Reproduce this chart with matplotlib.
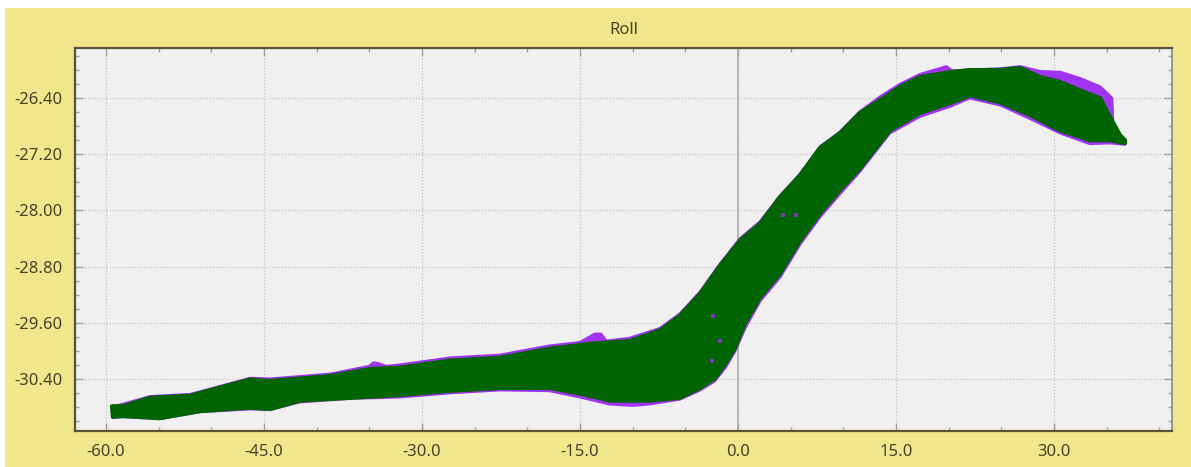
import numpy as np
import matplotlib
matplotlib.use("Agg")
import matplotlib.pyplot as plt
from matplotlib.ticker import MultipleLocator, FormatStrFormatter
from matplotlib.patches import Rectangle

plt.rcParams['font.family'] = ['Noto Sans', 'DejaVu Sans']

title = "Roll"

# Green (second series) point cloud envelope: upper and lower edges
green_upper_x = [-59.43, -58.39, -55.82, -52.03, -46.33, -44.43, -38.74, -34.94, -32.09,
                 -27.34, -22.60, -17.85, -14.05, -10.25, -7.41, -5.51, -3.61, -1.71,
                 0.19, 2.09, 3.99, 5.89, 7.79, 9.68, 11.58, 13.48, 15.38, 17.28, 20.13,
                 22.03, 24.87, 26.77, 28.67, 30.57, 32.47, 34.37, 35.32, 36.27, 36.74]
green_upper_y = [-30.79, -30.79, -30.67, -30.64, -30.41, -30.43, -30.36, -30.26, -30.24,
                 -30.14, -30.10, -29.97, -29.90, -29.86, -29.71, -29.50, -29.19, -28.79,
                 -28.43, -28.19, -27.81, -27.50, -27.11, -26.90, -26.61, -26.43, -26.24,
                 -26.10, -26.03, -26.00, -26.00, -25.97, -26.10, -26.17, -26.29, -26.40,
                 -26.67, -26.93, -27.00]
green_lower_x = [-59.34, -58.39, -54.88, -51.08, -46.33, -44.43, -41.58, -36.84, -32.09,
                 -27.34, -22.60, -17.85, -15.00, -12.15, -8.35, -5.51, -3.61, -2.18,
                 -1.23, -0.28, 0.66, 2.09, 3.99, 5.89, 7.79, 9.68, 11.58, 14.43, 17.28,
                 20.13, 22.03, 24.87, 27.72, 30.57, 33.42, 35.32, 36.74]
green_lower_y = [-30.94, -30.93, -30.96, -30.86, -30.81, -30.83, -30.71, -30.67, -30.63,
                 -30.57, -30.53, -30.53, -30.61, -30.71, -30.71, -30.67, -30.53, -30.39,
                 -30.19, -29.96, -29.61, -29.24, -28.90, -28.43, -28.04, -27.71, -27.40,
                 -26.86, -26.61, -26.47, -26.36, -26.46, -26.64, -26.86, -27.00, -27.00,
                 -27.04]

# Purple (first series) envelope, partly hidden under the green points
purple_upper_x = [-59.40, -58.40, -55.80, -52.00, -46.30, -44.40, -38.70, -35.00, -34.60,
                  -34.20, -33.40, -32.10, -27.30, -22.60, -17.90, -15.00, -13.60, -13.00,
                  -12.50, -10.30, -7.40, -5.50, -3.60, -1.70, 0.20, 2.10, 4.00, 5.90,
                  7.80, 9.70, 11.60, 13.50, 15.40, 17.30, 19.80, 20.30, 22.00, 24.90,
                  26.80, 28.70, 30.60, 32.50, 34.40, 35.50, 35.60, 36.30, 36.74]
purple_upper_y = [-30.80, -30.76, -30.65, -30.62, -30.39, -30.40, -30.33, -30.22, -30.17,
                  -30.18, -30.22, -30.20, -30.10, -30.06, -29.93, -29.88, -29.76, -29.76,
                  -29.86, -29.82, -29.68, -29.47, -29.16, -28.76, -28.40, -28.16, -27.79,
                  -27.48, -27.09, -26.88, -26.59, -26.38, -26.20, -26.06, -25.95, -26.01,
                  -26.00, -25.98, -25.95, -26.02, -26.03, -26.12, -26.24, -26.40, -26.81,
                  -26.93, -27.00]
purple_lower_x = [-59.40, -58.40, -54.90, -51.10, -46.30, -44.40, -41.60, -36.80, -32.10,
                  -27.30, -22.60, -17.90, -15.00, -12.20, -10.00, -8.40, -5.50, -3.60,
                  -2.20, -1.20, -0.30, 0.70, 2.10, 4.00, 5.90, 7.80, 9.70, 11.60, 14.40,
                  17.30, 20.10, 22.00, 24.90, 27.70, 30.60, 33.40, 35.30, 36.74]
purple_lower_y = [-30.95, -30.94, -30.97, -30.87, -30.83, -30.84, -30.73, -30.68, -30.66,
                  -30.60, -30.56, -30.57, -30.66, -30.76, -30.78, -30.76, -30.69, -30.56,
                  -30.43, -30.24, -30.01, -29.67, -29.29, -28.95, -28.48, -28.09, -27.76,
                  -27.44, -26.90, -26.66, -26.52, -26.40, -26.50, -26.69, -26.90, -27.05,
                  -27.04, -27.06]

# a few isolated purple points visible inside the cloud
purple_spots_x = [-2.37, -1.71, -2.47, 4.27, 5.51]
purple_spots_y = [-29.50, -29.86, -30.14, -28.07, -28.07]

x_ticks = [-60.0, -45.0, -30.0, -15.0, 0.0, 15.0, 30.0]
y_ticks = [-26.40, -27.20, -28.00, -28.80, -29.60, -30.40]

W, H = 1191, 467
fig = plt.figure(figsize=(W / 100, H / 100), dpi=100, facecolor="white")
fig.patches.append(Rectangle((5 / W, 0), 1 - 5 / W, (H - 8) / H, transform=fig.transFigure,
                             facecolor="#F0E68C", edgecolor="none", zorder=-10))

ax = fig.add_axes([75 / W, 36 / H, (1172 - 75) / W, (431 - 48) / H])
ax.set_facecolor("#F0F0F0")

purple = "#A034F0"
green = "#006400"

px = np.concatenate([purple_upper_x, purple_lower_x[::-1]])
py = np.concatenate([purple_upper_y, purple_lower_y[::-1]])
ax.fill(px, py, facecolor=purple, edgecolor=purple, linewidth=2.0, joinstyle="round", zorder=3)

gx = np.concatenate([green_upper_x, green_lower_x[::-1]])
gy = np.concatenate([green_upper_y, green_lower_y[::-1]])
ax.fill(gx, gy, facecolor=green, edgecolor=green, linewidth=3.0, joinstyle="round", zorder=4)
ax.scatter(purple_spots_x, purple_spots_y, s=5, marker="s", color="#7A3AB0", zorder=5, linewidths=0)

ax.set_xlim(-62.94, 41.2)
ax.set_ylim(-31.143, -25.686)

ax.set_xticks(x_ticks)
ax.set_yticks(y_ticks)
ax.xaxis.set_major_formatter(FormatStrFormatter("%.1f"))
ax.yaxis.set_major_formatter(FormatStrFormatter("%.2f"))
ax.xaxis.set_minor_locator(MultipleLocator(5))
ax.yaxis.set_minor_locator(MultipleLocator(0.2))

ax.grid(True, which="major", color="#C4C4C4", linestyle=(0, (1, 1.5)), linewidth=0.9, zorder=1)
ax.axvline(0, color="#A8A8A8", linewidth=1.1, zorder=2)

ax.tick_params(which="both", direction="in", top=True, right=True, colors="#A0A0A0",
               labelcolor="#4A4228", labelsize=12)
ax.tick_params(which="major", length=6, width=1)
ax.tick_params(which="minor", length=3, width=1)
ax.tick_params(axis="y", pad=9)
ax.tick_params(axis="x", pad=9)

for side in ["left", "bottom", "top"]:
    ax.spines[side].set_color("#5A5236")
    ax.spines[side].set_linewidth(1.6)
ax.spines["right"].set_color("#8A8A80")
ax.spines["right"].set_linewidth(1.2)

ax.set_title(title, fontsize=12, color="#4A4228", pad=10)

fig.savefig("out.png", dpi=100, facecolor=fig.get_facecolor())
